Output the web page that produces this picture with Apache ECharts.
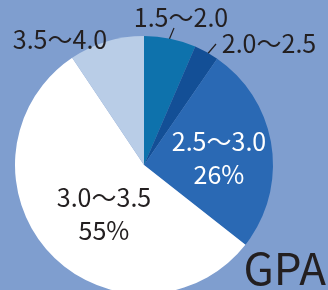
<!DOCTYPE html>
<html>
<head>
<meta charset="utf-8">
<script src="https://cdn.jsdelivr.net/npm/echarts@6/dist/echarts.min.js"></script>
<style>
  html, body { margin: 0; padding: 0; background: #7f9ecf; }
  #chart { width: 328px; height: 290px; }
</style>
</head>
<body>
<div id="chart"></div>
<script>
// GPA 分布
var categories = ['1.5～2.0', '2.0～2.5', '2.5～3.0', '3.0～3.5', '3.5～4.0'];
var values = [6.5, 3.1, 26, 55, 9.4];
var showPct = [false, false, true, true, false];
var colors = ['#0e72ac', '#134f96', '#2a69b4', '#ffffff', '#b9cde7'];

var FONT = '"Noto Sans CJK JP", "Noto Sans", sans-serif';

// label spots (center of text) and leader lines
var labelPos = [
  { x: 181, y: 17, line: [[164, 52], [174, 28]] },
  { x: 269, y: 43, line: [[199, 64], [216, 44]] },
  { x: 219, y: 158 },
  { x: 104, y: 214 },
  { x: 60, y: 39 }
];

var chart = echarts.init(document.getElementById('chart'));

var data = categories.map(function (name, i) {
  var inside = showPct[i];
  return {
    name: name,
    value: values[i],
    itemStyle: { color: colors[i] },
    label: {
      position: inside ? 'inside' : 'outside',
      color: i === 2 ? '#ffffff' : '#231f20',
      formatter: inside ? '{b}\n' + Math.round(values[i]) + '%' : '{b}'
    },
    labelLine: { show: !!labelPos[i].line }
  };
});

var option = {
  backgroundColor: '#7f9ecf',
  animation: false,
  graphic: [{
    type: 'text',
    right: 2,
    bottom: 0,
    style: { text: 'GPA', font: '44px ' + FONT, fill: '#231f20' }
  }],
  series: [{
    type: 'pie',
    center: [144, 165],
    radius: 129,
    startAngle: 90,
    clockwise: true,
    data: data,
    label: {
      fontFamily: FONT,
      fontSize: 25,
      lineHeight: 33,
      align: 'center',
      overflow: 'none',
      width: 200
    },
    labelLine: {
      lineStyle: { color: '#231f20', width: 1.2 }
    },
    labelLayout: function (params) {
      var p = labelPos[params.dataIndex];
      var out = {
        x: p.x,
        y: p.y,
        align: 'center',
        verticalAlign: 'middle'
      };
      if (p.line) out.labelLinePoints = [p.line[0], p.line[1], p.line[1]];
      return out;
    },
    emphasis: { disabled: true }
  }]
};

chart.setOption(option);
window.addEventListener('resize', function () { chart.resize(); });
</script>
</body>
</html>
